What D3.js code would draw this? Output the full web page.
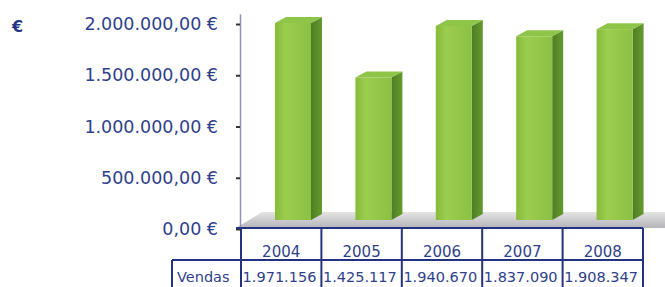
<!DOCTYPE html>
<html>
<head>
<meta charset="utf-8">
<script src="https://cdn.jsdelivr.net/npm/d3@7"></script>
<style>
  body { margin: 0; background: #fff; }
  svg { display: block; }
</style>
</head>
<body>
<div id="chart"></div>
<script>
const years = ['2004', '2005', '2006', '2007', '2008'];
const vendas = [1971156, 1425117, 1940670, 1837090, 1908347];
const tickValues = [0, 500000, 1000000, 1500000, 2000000];
const rowLabel = 'Vendas';

const width = 665;
const height = 287;
const navy = '#23337f';
const textCol = '#2f3f8c';

const pt = d3.formatLocale({decimal: ',', thousands: '.', grouping: [3], currency: ['', ' €']});
const fmtTick = v => pt.format(',.2f')(v) + ' €';
const fmtVal = pt.format(',d');

window.onload = function() {
     drawChart();
};

function drawChart(){
     let svg = d3.select('#chart')
                    .append('svg')
                         .attr('width', width)
                         .attr('height', height)
                         .style('font-family', '"DejaVu Sans", Verdana, sans-serif');

     let defs = svg.append('defs');

     let front = defs.append('linearGradient').attr('id', 'front');
     front.append('stop').attr('offset', '0%').attr('stop-color', '#86bb3c');
     front.append('stop').attr('offset', '30%').attr('stop-color', '#9ccd4e');
     front.append('stop').attr('offset', '100%').attr('stop-color', '#8cc043');

     let side = defs.append('linearGradient').attr('id', 'side');
     side.append('stop').attr('offset', '0%').attr('stop-color', '#4f7d22');
     side.append('stop').attr('offset', '100%').attr('stop-color', '#659a30');

     let floor = defs.append('linearGradient').attr('id', 'floor')
                         .attr('x1', 0).attr('y1', 0).attr('x2', 0).attr('y2', 1);
     floor.append('stop').attr('offset', '0%').attr('stop-color', '#e4e4e4');
     floor.append('stop').attr('offset', '100%').attr('stop-color', '#b4b4ba');

     // scales
     const xScale = d3.scaleBand()
                         .domain(years)
                         .range([241, 643]);

     const yAxisScale = d3.scaleLinear()
                         .domain([0, 2100000])
                         .range([229, 13.75]);

     // bars stand a little behind the axis front plane
     const yBar = d3.scaleLinear()
                         .domain([0, 2000000])
                         .range([220, 20]);

     const depthX = 11;
     const depthY = -6;
     const barOffset = 34;
     const barWidth = 36;

     // floor
     svg.append('polygon')
          .attr('points', [[236, 228], [665, 228], [665, 212], [262, 212]].map(p => p.join(',')).join(' '))
          .attr('fill', 'url(#floor)');

     // y axis
     let axis = svg.append('g')
          .attr('transform', 'translate(240,0)')
          .call(d3.axisLeft(yAxisScale)
                    .tickValues(tickValues)
                    .tickFormat(fmtTick)
                    .tickSize(4)
                    .tickSizeOuter(0)
                    .tickPadding(18));
     axis.select('.domain').attr('stroke', '#8d93b8').attr('stroke-width', 1.5);
     axis.selectAll('.tick line').attr('stroke', '#333').attr('stroke-width', 2);
     axis.selectAll('.tick text')
          .attr('fill', textCol)
          .attr('font-size', 17.5)
          .attr('font-family', '"DejaVu Sans", Verdana, sans-serif');

     // euro unit
     svg.append('text')
          .attr('x', 12)
          .attr('y', 32)
          .attr('font-size', 16)
          .attr('font-weight', 'bold')
          .attr('fill', navy)
          .text('€');

     // bars
     let bars = svg.append('g').selectAll('g')
          .data(years.map((y, i) => ({year: y, value: vendas[i]})))
          .enter()
               .append('g');

     bars.append('path')
          .attr('d', d => {
               let x0 = xScale(d.year) + barOffset + barWidth;
               let y0 = yBar(d.value);
               let y1 = yBar(0);
               return `M${x0},${y0} L${x0 + depthX},${y0 + depthY} L${x0 + depthX},${y1 + depthY} L${x0},${y1} Z`;
          })
          .attr('fill', 'url(#side)');

     bars.append('path')
          .attr('d', d => {
               let x0 = xScale(d.year) + barOffset;
               let y0 = yBar(d.value);
               return `M${x0},${y0} L${x0 + depthX},${y0 + depthY} L${x0 + barWidth + depthX},${y0 + depthY} L${x0 + barWidth},${y0} Z`;
          })
          .attr('fill', '#8ec447');

     bars.append('rect')
          .attr('x', d => xScale(d.year) + barOffset)
          .attr('y', d => yBar(d.value))
          .attr('width', barWidth)
          .attr('height', d => yBar(0) - yBar(d.value))
          .attr('fill', 'url(#front)');

     // data table
     let table = svg.append('g');

     table.selectAll('.year')
          .data(years)
          .enter()
               .append('text')
                    .attr('x', d => xScale(d) + xScale.bandwidth() / 2)
                    .attr('y', 257)
                    .attr('text-anchor', 'middle')
                    .attr('font-size', 15)
                    .attr('fill', textCol)
                    .text(d => d);

     table.selectAll('.val')
          .data(vendas)
          .enter()
               .append('text')
                    .attr('x', (d, i) => xScale(years[i]) + xScale.bandwidth() - 5)
                    .attr('y', 282)
                    .attr('text-anchor', 'end')
                    .attr('font-size', 14.5)
                    .attr('fill', textCol)
                    .text(d => fmtVal(d));

     table.append('text')
          .attr('x', 177)
          .attr('y', 282)
          .attr('font-size', 14.5)
          .attr('fill', textCol)
          .text(rowLabel);

     // grid lines of the table
     let lines = [];
     lines.push([236, 228, 643, 228]);
     lines.push([172, 260, 643, 260]);
     lines.push([172, 260, 172, 287]);
     years.forEach(y => lines.push([xScale(y), 228, xScale(y), 287]));
     lines.push([643, 228, 643, 287]);

     table.selectAll('line')
          .data(lines)
          .enter()
               .append('line')
                    .attr('x1', d => d[0])
                    .attr('y1', d => d[1])
                    .attr('x2', d => d[2])
                    .attr('y2', d => d[3])
                    .attr('stroke', navy)
                    .attr('stroke-width', 2);
}
</script>
</body>
</html>
